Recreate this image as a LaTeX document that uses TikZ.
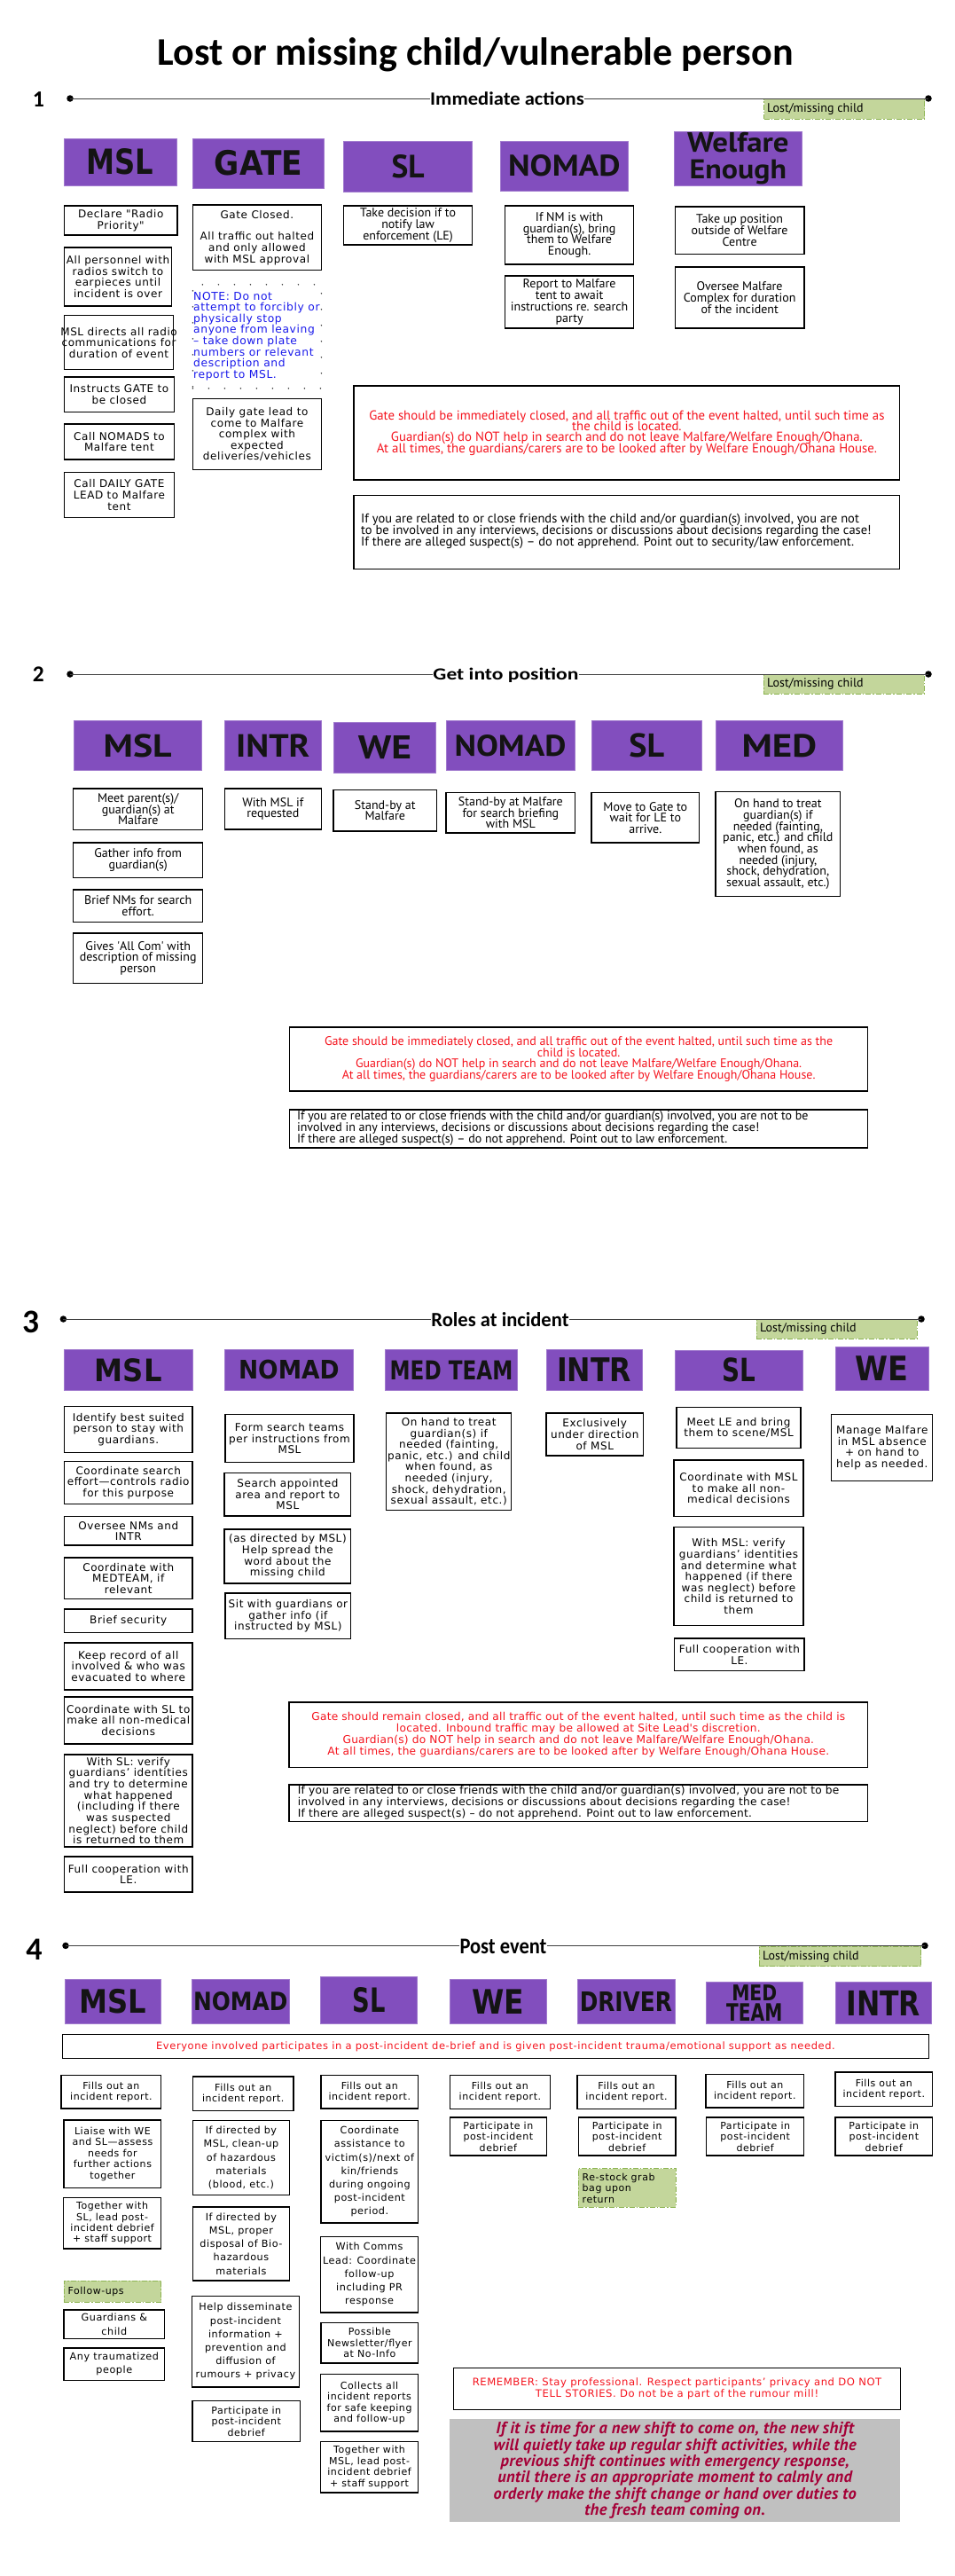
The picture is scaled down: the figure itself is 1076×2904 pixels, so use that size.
\documentclass[tikz,border=0pt]{standalone}
\usepackage{fontspec}
\usepackage{graphicx}
\setmainfont{DejaVu Sans}
\newfontfamily\hf{DejaVu Sans}
\newfontfamily\vw[LetterSpace=5]{DejaVu Sans}
\newfontfamily\vws[LetterSpace=2]{DejaVu Sans}
\newfontfamily\my{PT Sans}
\newfontfamily\myit[LetterSpace=2]{PT Sans}
\newfontfamily\cb{Carlito}
\definecolor{purp}{RGB}{130,78,190}
\definecolor{gfill}{RGB}{195,214,155}
\definecolor{gline}{RGB}{140,180,80}
\definecolor{redt}{RGB}{245,20,30}
\definecolor{bluet}{RGB}{25,25,235}
\definecolor{crim}{RGB}{165,0,55}
\definecolor{greyb}{RGB}{192,192,192}
\newcommand\Bx[8][bx]{%
 \pgfmathsetmacro\bw{#6-#4}\pgfmathsetmacro\bh{#7-#5}%
 \pgfmathsetmacro\bcx{(#4+#6)/2}\pgfmathsetmacro\bcy{(#5+#7)/2}%
 \node[#1,minimum width=\bw pt,minimum height=\bh pt] (#3) at (\bcx,\bcy) {};%
 \node[#2] (#3t) at (#3.center) {#8};}
\newcommand\Bo[6][bx]{%
 \pgfmathsetmacro\bw{#5-#3}\pgfmathsetmacro\bh{#6-#4}%
 \pgfmathsetmacro\bcx{(#3+#5)/2}\pgfmathsetmacro\bcy{(#4+#6)/2}%
 \node[#1,minimum width=\bw pt,minimum height=\bh pt] (#2) at (\bcx,\bcy) {};}
\newcommand\HdBox[6]{%
 \pgfmathsetmacro\bw{#4-#2}\pgfmathsetmacro\bh{#5-#3}%
 \pgfmathsetmacro\bcx{(#2+#4)/2}\pgfmathsetmacro\bcy{(#3+#5)/2}%
 \node[hdr,minimum width=\bw pt,minimum height=\bh pt] (#1) at (\bcx,\bcy) {#6};}
\begin{document}
\begin{tikzpicture}[x=1pt,y=-1pt,
 hdr/.style={fill=purp,draw=purp!75!white,line width=0.6pt,inner sep=0pt,text=black!92,align=center},
 bx/.style={draw=black,line width=1.3pt,fill=white,inner sep=0pt},
 dotb/.style={draw=black!80,line width=1.7pt,dash pattern=on 0pt off 18pt,line cap=round,inner sep=0pt},
 glab/.style={fill=gfill,draw=gline,line width=1pt,dash pattern=on 6pt off 2pt on 1.5pt off 2pt,inner sep=0pt},
 greyb/.style={fill=greyb,draw=none,inner sep=0pt},
 sdot/.style={circle,fill=black,inner sep=0pt,minimum size=7.5pt},
 sline/.style={line width=1pt,draw=black!75},
 plain/.style={inner sep=0pt},
 tv/.style={inner sep=0pt,align=center,font={\vw\fontsize{12}{12.6}\selectfont\lineskiplimit=-50pt}},
 tm/.style={inner sep=0pt,align=center,font={\my\fontsize{14}{12.7}\selectfont\lineskiplimit=-50pt}},
 tr/.style={inner sep=0pt,align=center,text=redt,font={\my\fontsize{14}{12.4}\selectfont\lineskiplimit=-50pt}},
 trA/.style={inner sep=0pt,align=center,text=redt,font={\my\fontsize{14.8}{12.4}\selectfont\lineskiplimit=-50pt}},
 tn/.style={inner sep=0pt,align=left,anchor=west,font={\my\fontsize{14}{12.8}\selectfont\lineskiplimit=-50pt}},
 tnA/.style={inner sep=0pt,align=left,anchor=west,font={\my\fontsize{14.5}{12.9}\selectfont\lineskiplimit=-50pt}},
 tblue/.style={inner sep=0pt,align=left,anchor=west,text=bluet,font={\vw\fontsize{12.3}{12.6}\selectfont\lineskiplimit=-50pt}},
 t3r/.style={inner sep=0pt,align=center,text=redt,font={\vws\fontsize{12.2}{12.9}\selectfont\lineskiplimit=-50pt}},
 t3n/.style={inner sep=0pt,align=left,anchor=west,font={\vws\fontsize{12.2}{12.9}\selectfont\lineskiplimit=-50pt}},
 t4/.style={inner sep=0pt,align=center,font={\vw\fontsize{11}{12.4}\selectfont\lineskiplimit=-50pt}},
 t4b/.style={inner sep=0pt,align=center,font={\vw\fontsize{11.2}{15.2}\selectfont\lineskiplimit=-50pt}},
 t4l/.style={inner sep=0pt,align=left,anchor=west,font={\vw\fontsize{11}{12.6}\selectfont\lineskiplimit=-50pt}},
 t4r/.style={inner sep=0pt,align=center,text=redt,font={\vw\fontsize{11.5}{12.6}\selectfont\lineskiplimit=-50pt}},
 t4m/.style={inner sep=0pt,align=center,text=redt,font={\vw\fontsize{11.6}{12.6}\selectfont\lineskiplimit=-50pt}},
 lab/.style={inner sep=0pt,anchor=west,font={\my\fontsize{14}{14}\selectfont}},
 greyt/.style={inner sep=0pt,align=center,text=crim,font={\myit\bfseries\itshape\fontsize{18.5}{18.4}\selectfont\lineskiplimit=-50pt}}
]
\path[use as bounding box,fill=white] (0,0) rectangle (1076,2904);

% ---------- Title
\node[plain] (title) at (536,61.5) {\resizebox{717pt}{!}{\cb\bfseries Lost or missing child/vulnerable person}};

% ================= SECTION 1
\Bo[glab]{g1}{861.6}{111.7}{1042.7}{134.3}
\node[lab] (g1t) at (865,123) {Lost/missing child};
\node[plain] (n1) at (43.4,111.6) {\resizebox{!}{16.8pt}{\cb\bfseries 1}};
\node[sdot] (d1a) at (79,111) {};
\node[sdot] (d1b) at (1047,111) {};
\node[plain] (t1) at (572,111.4) {\resizebox{173.6pt}{14.8pt}{\cb\bfseries Immediate actions}};
\draw[sline] (d1a.center) -- (d1a.center -| t1.west);
\draw[sline] (t1.east |- d1b.center) -- (d1b.center);

\HdBox{h1a}{72.5}{155.8}{198.8}{209.7}{\resizebox{75.7pt}{29pt}{\hf\bfseries MSL}}
\HdBox{h1b}{217.4}{155.8}{365.6}{212.2}{\resizebox{99.3pt}{28.2pt}{\hf\bfseries GATE}}
\HdBox{h1c}{387.5}{159.2}{532.7}{215.8}{\resizebox{37pt}{26pt}{\my\bfseries SL}}
\HdBox{h1d}{564.2}{158.8}{708.5}{215.4}{\resizebox{126.5pt}{24pt}{\my\bfseries NOMAD}}
\HdBox{h1e}{760}{148}{904.7}{209.5}{\resizebox{114.6pt}{22.2pt}{\my\bfseries Welfare}\\[7pt]\resizebox{109.4pt}{21.4pt}{\my\bfseries Enough}}

\Bx{tv}{s1m1}{72.5}{232}{200}{265}{Declare "Radio\\Priority"}
\Bx{tv}{s1m2}{72.5}{279}{193.5}{345}{All personnel with\\radios switch to\\earpieces until\\incident is over}
\Bx{tv}{s1m3}{72.5}{355.7}{195.6}{416.8}{MSL directs all radio\\communications for\\duration of event}
\Bx{tv}{s1m4}{72.5}{425}{196.4}{464.8}{Instructs GATE to\\be closed}
\Bx{tv}{s1m5}{72.5}{478}{196.4}{518}{Call NOMADS to\\Malfare tent}
\Bx{tv}{s1m6}{72.5}{532.6}{196.4}{583.5}{Call DAILY GATE\\LEAD to Malfare\\tent}

\Bx{tv}{s1g1}{217.4}{231}{362.4}{304.8}{Gate Closed.\\[12pt]All traffic out halted\\and only allowed\\with MSL approval}
\Bo[dotb]{s1g2}{217.4}{320.8}{362.4}{437.8}
\node[tblue] (s1g2t) at (218,379) {NOTE: Do not\\attempt to forcibly or\\physically stop\\anyone from leaving\\– take down plate\\numbers or relevant\\description and\\report to MSL.};
\Bx{tv}{s1g3}{217.4}{449.6}{362.4}{529.6}{Daily gate lead to\\come to Malfare\\complex with\\expected\\deliveries/vehicles}

\Bx{tm}{s1s1}{387.5}{232}{532.7}{276}{Take decision if to\\notify law\\enforcement (LE)}
\Bx{tm}{s1n1}{569.5}{232}{714.7}{298}{If NM is with\\guardian(s), bring\\them to Welfare\\Enough.}
\Bx{tm}{s1n2}{569.5}{311}{714.7}{370}{Report to Malfare\\tent to await\\instructions re. search\\party}
\Bx{tm}{s1w1}{761.3}{233}{907}{286.5}{Take up position\\outside of Welfare\\Centre}
\Bx{tm}{s1w2}{761.3}{301}{907}{370}{Oversee Malfare\\Complex for duration\\of the incident}

\Bx{trA}{s1red}{399}{435}{1014.8}{541}{Gate should be immediately closed, and all traffic out of the event halted, until such time as\\the child is located.\\Guardian(s) do NOT help in search and do not leave Malfare/Welfare Enough/Ohana.\\At all times, the guardians/carers are to be looked after by Welfare Enough/Ohana House.}
\Bo{s1note}{399}{558.4}{1014.8}{641.7}
\node[tnA] (s1notet) at (407,599) {If you are related to or close friends with the child and/or guardian(s) involved, you are not\\to be involved in any interviews, decisions or discussions about decisions regarding the case!\\If there are alleged suspect(s) – do not apprehend. Point out to security/law enforcement.};

% ================= SECTION 2
\Bo[glab]{g2}{861}{760}{1042}{782}
\node[lab] (g2t) at (865,771) {Lost/missing child};
\node[plain] (n2) at (43.4,760) {\resizebox{!}{16.7pt}{\cb\bfseries 2}};
\node[sdot] (d2a) at (79,760) {};
\node[sdot] (d2b) at (1047,760) {};
\node[plain] (t2) at (570.5,761.7) {\resizebox{164pt}{13.5pt}{\cb\bfseries Get into position}};
\draw[sline] (d2a.center) -- (d2a.center -| t2.west);
\draw[sline] (t2.east |- d2b.center) -- (d2b.center);

\HdBox{h2a}{82.8}{812.3}{227.5}{868.7}{\resizebox{76.8pt}{25.7pt}{\my\bfseries MSL}}
\HdBox{h2b}{253.5}{812.3}{362}{868.7}{\resizebox{83.2pt}{25.7pt}{\my\bfseries INTR}}
\HdBox{h2c}{376.4}{814.7}{491.7}{871.3}{\resizebox{60.3pt}{26pt}{\my\bfseries WE}}
\HdBox{h2d}{503}{812.3}{648}{868.7}{\resizebox{126pt}{24pt}{\my\bfseries NOMAD}}
\HdBox{h2e}{667}{812.3}{791.6}{868.7}{\resizebox{39.7pt}{26.7pt}{\my\bfseries SL}}
\HdBox{h2f}{807}{812.3}{950.7}{868.7}{\resizebox{84.5pt}{25.7pt}{\my\bfseries MED}}

\Bx{tm}{s2m1}{82.8}{889}{228.6}{935.7}{Meet parent(s)/\\guardian(s) at\\Malfare}
\Bx{tm}{s2m2}{82.8}{950}{228.6}{989.7}{Gather info from\\guardian(s)}
\Bx{tm}{s2m3}{82.8}{1003}{228.6}{1039.7}{Brief NMs for search\\effort.}
\Bx{tm}{s2m4}{82.8}{1052}{228.6}{1108.7}{Gives \textquotesingle All Com\textquotesingle{} with\\description of missing\\person}
\Bx{tm}{s2i1}{253.2}{889}{362.5}{935}{With MSL if\\requested}
\Bx{tm}{s2w1}{376}{890.3}{492.5}{937}{Stand-by at\\Malfare}
\Bx{tm}{s2n1}{503}{893.7}{648.8}{939}{Stand-by at Malfare\\for search briefing\\with MSL}
\Bx{tm}{s2s1}{667}{893.7}{788.7}{950}{Move to Gate to\\wait for LE to\\arrive.}
\Bx{tm}{s2d1}{807}{892.7}{947.7}{1010.7}{On hand to treat\\guardian(s) if\\needed (fainting,\\panic, etc.) and child\\when found, as\\needed (injury,\\shock, dehydration,\\sexual assault, etc.)}

\Bx{tr}{s2red}{326.7}{1158}{978.6}{1230}{Gate should be immediately closed, and all traffic out of the event halted, until such time as the\\child is located.\\Guardian(s) do NOT help in search and do not leave Malfare/Welfare Enough/Ohana.\\At all times, the guardians/carers are to be looked after by Welfare Enough/Ohana House.}
\Bo{s2note}{326.7}{1251}{978.6}{1294}
\node[tn] (s2notet) at (334.8,1272) {If you are related to or close friends with the child and/or guardian(s) involved, you are not to be\\involved in any interviews, decisions or discussions about decisions regarding the case!\\If there are alleged suspect(s) – do not apprehend. Point out to law enforcement.};

% ================= SECTION 3
\Bo[glab]{g3}{853}{1487.7}{1034.4}{1509}
\node[lab] (g3t) at (857,1498.4) {Lost/missing child};
\node[plain] (n3) at (35.3,1490) {\resizebox{!}{24.5pt}{\cb\bfseries 3}};
\node[sdot] (d3a) at (71.4,1487) {};
\node[sdot] (d3b) at (1039,1487) {};
\node[plain] (t3) at (564,1487.2) {\resizebox{155pt}{16pt}{\cb\bfseries Roles at incident}};
\draw[sline] (d3a.center) -- (d3a.center -| t3.west);
\draw[sline] (t3.east |- d3b.center) -- (d3b.center);

\HdBox{h3a}{72.5}{1521}{217}{1567.6}{\resizebox{75.7pt}{25.9pt}{\hf\bfseries MSL}}
\HdBox{h3b}{253.5}{1521}{398.2}{1567.6}{\resizebox{113.6pt}{21.4pt}{\hf\bfseries NOMAD}}
\HdBox{h3c}{434.6}{1521}{583.4}{1567.6}{\resizebox{138.6pt}{21.4pt}{\hf\bfseries MED TEAM}}
\HdBox{h3d}{616}{1521}{724.4}{1567.6}{\resizebox{84pt}{26.8pt}{\hf\bfseries INTR}}
\HdBox{h3e}{760.8}{1522}{905.5}{1567.6}{\resizebox{37.8pt}{26.8pt}{\hf\bfseries SL}}
\HdBox{h3f}{941.9}{1518.5}{1047}{1567.6}{\resizebox{59.9pt}{27.7pt}{\hf\bfseries WE}}

\Bx{tv}{s3m1}{72.5}{1585.4}{217}{1637.2}{Identify best suited\\person to stay with\\guardians.}
\Bx{tv}{s3m2}{72.5}{1647.5}{217}{1695.3}{Coordinate search\\effort—controls radio\\for this purpose}
\Bx{tv}{s3m3}{72.5}{1709.5}{217}{1742}{Oversee NMs and\\INTR}
\Bx{tv}{s3m4}{72.5}{1756}{217}{1802.4}{Coordinate with\\MEDTEAM, if\\relevant}
\Bx{tv}{s3m5}{72.5}{1814}{217}{1840.8}{Brief security}
\Bx{tv}{s3m6}{72.5}{1852}{217}{1905}{Keep record of all\\involved \& who was\\evacuated to where}
\Bx{tv}{s3m7}{72.5}{1913}{217}{1966}{Coordinate with SL to\\make all non-medical\\decisions}
\Bx{tv}{s3m8}{72.5}{1978}{217}{2082}{With SL: verify\\guardians’ identities\\and try to determine\\what happened\\(including if there\\was suspected\\neglect) before child\\is returned to them}
\Bx{tv}{s3m9}{72.5}{2093}{217}{2133}{Full cooperation with\\LE.}
\Bx{tv}{s3n1}{254}{1594.8}{399}{1648.4}{Form search teams\\per instructions from\\MSL}
\Bx{tv}{s3n2}{253}{1660.4}{395.7}{1709}{Search appointed\\area and report to\\MSL}
\Bx{tv}{s3n3}{253}{1724}{395.7}{1785}{(as directed by MSL)\\Help spread the\\word about the\\missing child}
\Bx{tv}{s3n4}{254}{1796}{395.7}{1847.5}{Sit with guardians or\\gather info (if\\instructed by MSL)}
\Bx{tv}{s3d1}{435.7}{1593}{576.8}{1702.8}{On hand to treat\\guardian(s) if\\needed (fainting,\\panic, etc.) and child\\when found, as\\needed (injury,\\shock, dehydration,\\sexual assault, etc.)}
\Bx{tv}{s3i1}{616}{1593}{725.5}{1641}{Exclusively\\under direction\\of MSL}
\Bx{tv}{s3s1}{763}{1586.3}{903}{1632.8}{Meet LE and bring\\them to scene/MSL}
\Bx{tv}{s3s2}{760}{1646}{906}{1709.5}{Coordinate with MSL\\to make all non-\\medical decisions}
\Bx{tv}{s3s3}{760}{1721.6}{906}{1832.7}{With MSL: verify\\guardians’ identities\\and determine what\\happened (if there\\was neglect) before\\child is returned to\\them}
\Bx{tv}{s3s4}{760.8}{1847}{907}{1883.6}{Full cooperation with\\LE.}
\Bx{tv}{s3w1}{937.8}{1594.8}{1051.7}{1669.8}{Manage Malfare\\in MSL absence\\+ on hand to\\help as needed.}

\Bx{t3r}{s3red}{326}{1919}{978.6}{1992.6}{Gate should remain closed, and all traffic out of the event halted, until such time as the child is\\located. Inbound traffic may be allowed at Site Lead\textquotesingle s discretion.\\Guardian(s) do NOT help in search and do not leave Malfare/Welfare Enough/Ohana.\\At all times, the guardians/carers are to be looked after by Welfare Enough/Ohana House.}
\Bo{s3note}{326}{2012}{978.6}{2053.7}
\node[t3n] (s3notet) at (335.7,2032.5) {If you are related to or close friends with the child and/or guardian(s) involved, you are not to be\\involved in any interviews, decisions or discussions about decisions regarding the case!\\If there are alleged suspect(s) – do not apprehend. Point out to law enforcement.};

% ================= SECTION 4
\Bo[glab]{g4}{856.3}{2194.3}{1038.5}{2216.8}
\node[lab] (g4t) at (860,2205.5) {Lost/missing child};
\node[plain] (n4) at (38.4,2198) {\resizebox{!}{23.4pt}{\cb\bfseries 4}};
\node[sdot] (d4a) at (74,2193.4) {};
\node[sdot] (d4b) at (1043,2193.4) {};
\node[plain] (t4) at (567.5,2194.6) {\resizebox{98pt}{16.4pt}{\cb\bfseries Post event}};
\draw[sline] (d4a.center) -- (d4a.center -| t4.west);
\draw[sline] (t4.east |- d4b.center) -- (d4b.center);

\HdBox{h4a}{73.2}{2231}{181}{2281.4}{\resizebox{75.7pt}{27.1pt}{\hf\bfseries MSL}}
\HdBox{h4b}{216.4}{2231}{326}{2281.4}{\resizebox{106.4pt}{21pt}{\hf\bfseries NOMAD}}
\HdBox{h4c}{361.4}{2228.5}{470.7}{2281.4}{\resizebox{37.1pt}{28pt}{\hf\bfseries SL}}
\HdBox{h4d}{507.3}{2231}{616}{2281.4}{\resizebox{58.8pt}{27.6pt}{\hf\bfseries WE}}
\HdBox{h4e}{651}{2231}{760.8}{2281.4}{\resizebox{104.3pt}{22pt}{\hf\bfseries DRIVER}}
\HdBox{h4f}{796}{2234.6}{905.5}{2281.4}{\resizebox{51pt}{17.8pt}{\hf\bfseries MED}\\[2.7pt]\resizebox{63.2pt}{19.7pt}{\hf\bfseries TEAM}}
\HdBox{h4g}{941.9}{2234.6}{1050.6}{2281.4}{\resizebox{83.7pt}{28.1pt}{\hf\bfseries INTR}}

\Bx{t4r}{s4all}{70.3}{2293.6}{1047.6}{2320.7}{Everyone involved participates in a post-incident de-brief and is given post-incident trauma/emotional support as needed.}

\Bx{t4}{s4m1}{69}{2339.5}{181.8}{2377}{Fills out an\\incident report.}
\Bx{t4}{s4m2}{72}{2390}{181.8}{2466.3}{Liaise with WE\\and SL—assess\\needs for\\further actions\\together}
\Bx{t4}{s4m3}{71.4}{2477.5}{181.8}{2535}{Together with\\SL, lead post-\\incident debrief\\+ staff support}
\Bo[glab]{s4m4}{72}{2571}{181.8}{2595}
\node[t4l] (s4m4t) at (76.4,2583) {Follow-ups};
\Bx{t4b}{s4m5}{72}{2604}{185.7}{2636.7}{Guardians \&\\child}
\Bx{t4b}{s4m6}{72}{2647}{185.7}{2683.5}{Any traumatized\\people}

\Bx{t4}{s4n1}{217.5}{2341}{331}{2379.7}{Fills out an\\incident report.}
\Bx{t4b}{s4n2}{217.5}{2390.5}{326.4}{2474.7}{If directed by\\MSL, clean-up\\of hazardous\\materials\\(blood, etc.)}
\Bx{t4b}{s4n3}{217.5}{2488}{326.4}{2571}{If directed by\\MSL, proper\\disposal of Bio-\\hazardous\\materials}
\Bx{t4b}{s4n4}{216.4}{2588.5}{337.5}{2691}{Help disseminate\\post-incident\\information +\\prevention and\\diffusion of\\rumours + privacy}
\Bx{t4}{s4n5}{217}{2706.4}{338.5}{2752.8}{Participate in\\post-incident\\debrief}

\Bx{t4}{s4s1}{362}{2339.5}{471.7}{2377}{Fills out an\\incident report.}
\Bx{t4b}{s4s2}{362}{2390.5}{471.7}{2506}{Coordinate\\assistance to\\victim(s)/next of\\kin/friends\\during ongoing\\post-incident\\period.}
\Bx{t4b}{s4s3}{361.4}{2521.5}{471.7}{2607}{With Comms\\Lead: Coordinate\\follow-up\\including PR\\response}
\Bx{t4}{s4s4}{362}{2618.4}{471.7}{2664}{Possible\\Newsletter/flyer\\at No-Info}
\Bx{t4}{s4s5}{361.4}{2676.5}{471.7}{2741}{Collects all\\incident reports\\for safe keeping\\and follow-up}
\Bx{t4}{s4s6}{361.4}{2752.8}{471.7}{2810}{Together with\\MSL, lead post-\\incident debrief\\+ staff support}

\Bx{t4}{s4w1}{507.3}{2339.5}{620.5}{2377.4}{Fills out an\\incident report.}
\Bx{t4}{s4w2}{507.3}{2387}{616.4}{2430}{Participate in\\post-incident\\debrief}
\Bx{t4}{s4d1}{651}{2339.5}{762}{2377.4}{Fills out an\\incident report.}
\Bx{t4}{s4d2}{652.4}{2387}{762}{2430}{Participate in\\post-incident\\debrief}
\Bo[glab]{s4d3}{652.4}{2444.8}{762}{2488.3}
\node[t4l] (s4d3t) at (656.5,2466.5) {Re-stock grab\\bag upon\\return};
\Bx{t4}{s4e1}{796}{2338.5}{906.6}{2376}{Fills out an\\incident report.}
\Bx{t4}{s4e2}{796.8}{2387}{906.6}{2430}{Participate in\\post-incident\\debrief}
\Bx{t4}{s4i1}{941.9}{2336}{1051.7}{2374.6}{Fills out an\\incident report.}
\Bx{t4}{s4i2}{941.9}{2387}{1051.7}{2430}{Participate in\\post-incident\\debrief}

\Bx{t4m}{s4rem}{511.4}{2669.5}{1015.7}{2716.3}{REMEMBER: Stay professional. Respect participants’ privacy and DO NOT\\TELL STORIES. Do not be a part of the rumour mill!}
\Bx[greyb]{greyt}{s4grey}{507.4}{2726.7}{1015}{2843.3}{If it is time for a new shift to come on, the new shift\\will quietly take up regular shift activities, while the\\previous shift continues with emergency response,\\until there is an appropriate moment to calmly and\\orderly make the shift change or hand over duties to\\the fresh team coming on.}
\end{tikzpicture}
\end{document}
